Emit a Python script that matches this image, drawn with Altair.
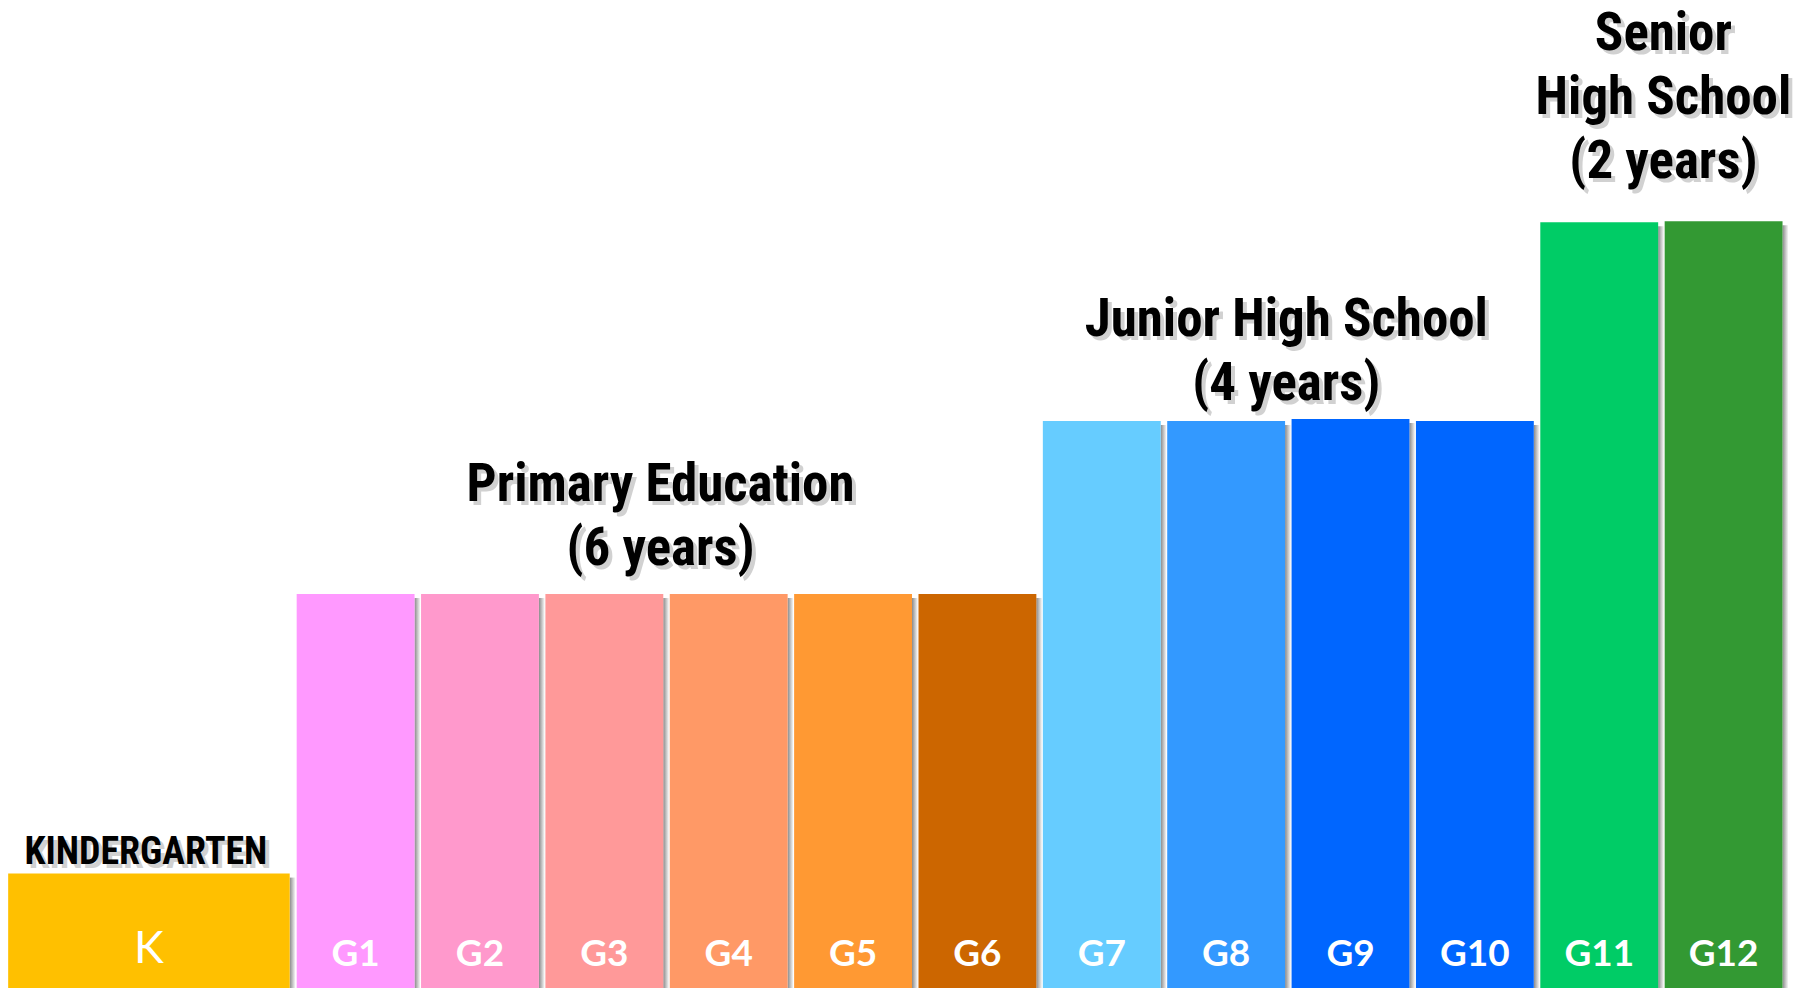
import altair as alt
import pandas as pd

# ---------------- data ----------------
grades = ["K", "G1", "G2", "G3", "G4", "G5", "G6", "G7", "G8", "G9", "G10", "G11", "G12"]
levels = [115, 395, 395, 395, 395, 395, 395, 568, 568, 570, 568, 767, 768]
bar_colors = ["#FFC000", "#FF99FF", "#FF99CC", "#FF9999", "#FF9966", "#FF9933", "#CC6600",
              "#66CCFF", "#3399FF", "#0066FF", "#0066FF", "#00CC66", "#339933"]
stage_of = ["KG", "PR", "PR", "PR", "PR", "PR", "PR", "JH", "JH", "JH", "JH", "SH", "SH"]
stage_keys = ["KG", "PR", "JH", "SH"]
stage_titles = ["KINDERGARTEN", "Primary Education\n(6 years)", "Junior High School\n(4 years)",
                "Senior\nHigh School\n(2 years)"]

# ---------------- layout / style ----------------
W, H = 1802, 980
PITCH = 124.5            # px per grade slot
ORIGIN_PX = 287          # plot px of slot 0
BAR_FRAC = 118 / PITCH
K_START, K_END = -2.32, -0.056   # kindergarten block spans ~2.3 slots
SHADOW_W = 6 / PITCH

TITLE_FONT = ("Liberation Sans Narrow, Arial Narrow, Roboto Condensed, Noto Sans Condensed, "
              "Liberation Sans, Arial, sans-serif")
LABEL_FONT = "Lato, Open Sans, sans-serif"

x0, x1 = [], []
for i, g in enumerate(grades):
    if g == "K":
        x0.append(K_START)
        x1.append(K_END)
    else:
        x0.append(i - 1)
        x1.append(i - 1 + BAR_FRAC)

df = pd.DataFrame({"grade": grades, "level": levels, "stage": stage_of, "x0": x0, "x1": x1})
df["xc"] = (df["x0"] + df["x1"]) / 2
df["sx0"] = df["x1"]
df["sx1"] = df["x1"] + SHADOW_W

xscale = alt.Scale(domain=[-ORIGIN_PX / PITCH, (W - ORIGIN_PX) / PITCH], nice=False, zero=False)
yscale = alt.Scale(domain=[0, H], nice=False)
cscale = alt.Scale(domain=grades, range=bar_colors)

base = alt.Chart(df)

shadow = base.mark_bar(
    color=alt.Gradient(gradient="linear",
                       stops=[alt.GradientStop(color="#8a8a8a", offset=0),
                              alt.GradientStop(color="#ffffff", offset=1)],
                       x1=0, x2=1, y1=0, y2=0),
    yOffset=4,
).encode(
    x=alt.X("sx0:Q", scale=xscale, axis=None),
    x2="sx1:Q",
    y=alt.Y("level:Q", scale=yscale, axis=None),
    y2=alt.datum(0),
)

bars = base.mark_bar().encode(
    x=alt.X("x0:Q", scale=xscale, axis=None),
    x2="x1:Q",
    y=alt.Y("level:Q", scale=yscale, axis=None),
    y2=alt.datum(0),
    color=alt.Color("grade:N", scale=cscale, legend=None),
)

k_label = base.transform_filter(alt.datum.grade == "K").mark_text(
    font=LABEL_FONT, fontSize=45, fontWeight="normal", color="white", baseline="alphabetic"
).encode(
    x=alt.X("xc:Q", scale=xscale, axis=None),
    y=alt.value(955),
    text="grade:N",
)

g_labels = base.transform_filter(alt.datum.grade != "K").mark_text(
    font=LABEL_FONT, fontSize=37, fontWeight="bold", color="white", baseline="alphabetic"
).encode(
    x=alt.X("xc:Q", scale=xscale, axis=None),
    y=alt.value(958),
    text="grade:N",
)

# stage titles
rows = []
for key, title in zip(stage_keys, stage_titles):
    sub = df[df["stage"] == key]
    rows.append({"stage": key, "title": title,
                 "xc": (sub["x0"].min() + sub["x1"].max()) / 2,
                 "top": sub["level"].max()})
tdf = pd.DataFrame(rows)

title_style = {
    "KG": dict(fontSize=38, dy=-10, dx=-3),
    "PR": dict(fontSize=53, dy=-93, dx=-6),
    "JH": dict(fontSize=53, dy=-83, dx=-2),
    "SH": dict(fontSize=53, dy=-171, dx=2),
}
LINE_H = 64

title_layers = []
for key in stage_keys:
    st = title_style[key]
    tb = alt.Chart(tdf).transform_filter(alt.datum.stage == key)
    enc = dict(x=alt.X("xc:Q", scale=xscale, axis=None),
               y=alt.Y("top:Q", scale=yscale, axis=None),
               text="title:N")
    sh = tb.mark_text(font=TITLE_FONT, fontSize=st["fontSize"], fontWeight="bold",
                      color="#9a9a9a", opacity=0.45, baseline="alphabetic", align="center",
                      lineBreak="\n", lineHeight=LINE_H,
                      dx=st["dx"] + 4, dy=st["dy"] + 4).encode(**enc)
    tx = tb.mark_text(font=TITLE_FONT, fontSize=st["fontSize"], fontWeight="bold",
                      color="black", baseline="alphabetic", align="center",
                      lineBreak="\n", lineHeight=LINE_H,
                      dx=st["dx"], dy=st["dy"]).encode(**enc)
    title_layers += [sh, tx]

chart = alt.layer(shadow, bars, k_label, g_labels, *title_layers).properties(
    width=W, height=H, padding=0, background="white"
).configure_view(stroke=None)

chart.save("out.html", embed_options={"renderer": "svg", "actions": False})
